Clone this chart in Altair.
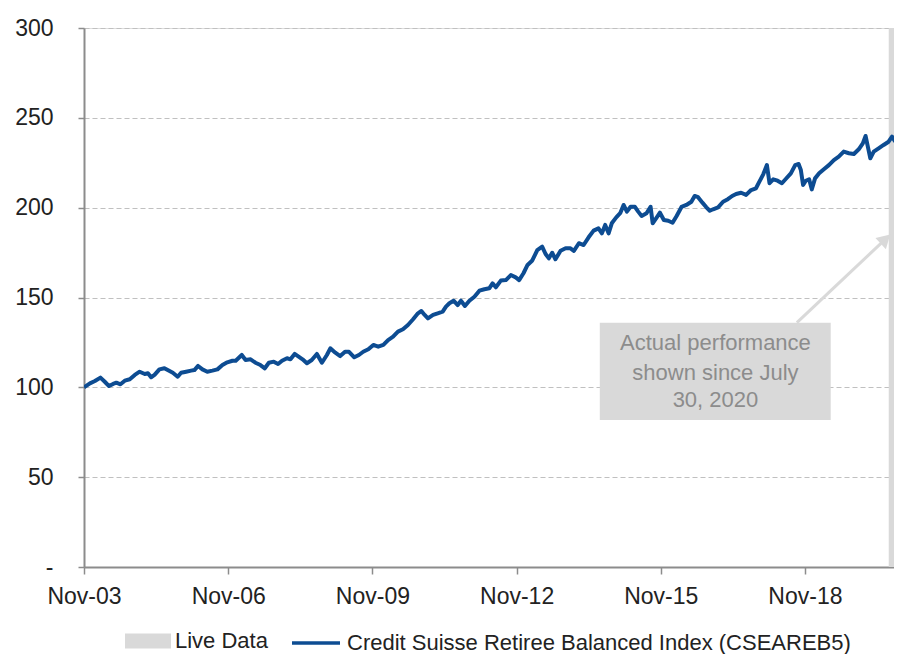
import altair as alt
import pandas as pd

# ---- series ----
dates = [
    "2003-11-01", "2003-12-16", "2004-01-23", "2004-03-05", "2004-04-07", "2004-05-09", "2004-06-09", "2004-07-04",
    "2004-08-04", "2004-09-06", "2004-10-14", "2004-11-21", "2004-12-28", "2005-02-05", "2005-03-01", "2005-03-25",
    "2005-04-20", "2005-05-27", "2005-07-04", "2005-07-29", "2005-09-06", "2005-10-13", "2005-11-08", "2005-12-16",
    "2006-01-23", "2006-02-17", "2006-03-17", "2006-04-19", "2006-05-26", "2006-07-04", "2006-08-11", "2006-09-18",
    "2006-10-25", "2006-12-03", "2006-12-28", "2007-02-12", "2007-03-13", "2007-04-20", "2007-05-27", "2007-07-04",
    "2007-08-06", "2007-09-06", "2007-10-13", "2007-11-15", "2007-12-15", "2008-01-22", "2008-02-17", "2008-03-20",
    "2008-04-19", "2008-05-19", "2008-06-21", "2008-07-28", "2008-09-05", "2008-10-13", "2008-11-20", "2008-12-16",
    "2009-01-23", "2009-03-01", "2009-04-07", "2009-05-07", "2009-06-16", "2009-07-21", "2009-08-23", "2009-10-01",
    "2009-11-08", "2009-12-15", "2010-01-23", "2010-02-28", "2010-04-07", "2010-05-14", "2010-06-21", "2010-07-29",
    "2010-09-06", "2010-10-13", "2010-11-08", "2010-12-03", "2010-12-28", "2011-02-05", "2011-03-12", "2011-04-19",
    "2011-05-14", "2011-06-09", "2011-07-11", "2011-08-11", "2011-09-05", "2011-10-05", "2011-11-08", "2011-12-16",
    "2012-01-23", "2012-03-01", "2012-04-07", "2012-05-02", "2012-05-27", "2012-07-04", "2012-08-11", "2012-09-18",
    "2012-10-25", "2012-11-20", "2012-12-23", "2013-01-23", "2013-02-28", "2013-04-07", "2013-05-14", "2013-06-09",
    "2013-07-04", "2013-07-29", "2013-08-23", "2013-10-01", "2013-11-08", "2013-12-15", "2014-01-10", "2014-02-17",
    "2014-03-25", "2014-05-02", "2014-06-09", "2014-07-16", "2014-08-11", "2014-09-05", "2014-10-01", "2014-10-25",
    "2014-11-28", "2014-12-28", "2015-01-23", "2015-02-17", "2015-03-17", "2015-04-19", "2015-05-14", "2015-06-09",
    "2015-07-16", "2015-08-16", "2015-09-01", "2015-10-06", "2015-10-26", "2015-11-25", "2015-12-28", "2016-01-30",
    "2016-03-01", "2016-04-07", "2016-05-14", "2016-06-21", "2016-07-16", "2016-08-11", "2016-09-13", "2016-10-13",
    "2016-11-08", "2016-12-03", "2017-01-10", "2017-02-17", "2017-03-25", "2017-04-27", "2017-05-27", "2017-07-04",
    "2017-08-11", "2017-09-18", "2017-10-25", "2017-11-20", "2017-12-20", "2018-01-16", "2018-02-05", "2018-03-05",
    "2018-04-07", "2018-05-10", "2018-06-10", "2018-07-17", "2018-08-19", "2018-09-14", "2018-10-01", "2018-10-18",
    "2018-11-08", "2018-12-03", "2018-12-23", "2019-01-17", "2019-02-17", "2019-03-25", "2019-05-02", "2019-06-09",
    "2019-07-16", "2019-08-23", "2019-10-01", "2019-11-08", "2019-12-15", "2020-01-15", "2020-02-05", "2020-02-25",
    "2020-03-12", "2020-04-07", "2020-05-14", "2020-06-21", "2020-07-29", "2020-08-24", "2020-09-18",
]
values = [
    100.0, 102.2, 103.5, 105.4, 103.1, 100.7, 101.9, 102.6,
    101.7, 103.7, 104.5, 106.9, 108.7, 107.4, 107.8, 105.6,
    106.9, 110.0, 110.6, 109.6, 108.1, 105.9, 108.1, 108.7,
    109.3, 109.6, 111.9, 110.0, 108.7, 109.3, 110.0, 112.4,
    113.9, 114.8, 114.8, 118.0, 115.2, 115.6, 113.7, 112.4,
    110.6, 113.7, 114.3, 113.0, 114.8, 116.2, 115.6, 118.6,
    117.1, 115.6, 113.4, 115.2, 118.6, 113.7, 118.0, 121.7,
    119.3, 117.4, 119.8, 119.8, 116.7, 118.0, 119.8, 121.2,
    123.6, 122.6, 123.6, 126.3, 128.2, 131.0, 132.3, 134.7,
    137.9, 141.2, 142.5, 140.3, 138.4, 140.3, 141.2, 142.1,
    144.9, 146.8, 148.2, 145.8, 148.2, 145.3, 148.2, 150.4,
    153.8, 154.6, 155.1, 157.9, 155.7, 159.4, 159.7, 162.5,
    161.2, 159.7, 163.5, 168.1, 170.6, 176.4, 178.3, 174.2,
    171.8, 174.9, 171.3, 176.0, 177.4, 177.4, 176.0, 180.2,
    179.2, 183.5, 187.2, 188.5, 185.7, 190.4, 185.7, 191.3,
    194.6, 196.9, 201.5, 197.8, 200.5, 200.5, 197.8, 195.4,
    196.9, 200.5, 191.3, 195.0, 197.2, 193.1, 192.7, 191.6,
    195.4, 200.4, 201.5, 203.3, 206.5, 205.8, 202.8, 200.2,
    198.3, 199.1, 200.2, 203.3, 204.7, 206.5, 207.6, 208.3,
    207.1, 209.8, 210.8, 214.5, 218.7, 223.7, 213.6, 215.8,
    215.0, 213.6, 216.1, 219.1, 223.7, 224.3, 221.0, 212.6,
    215.0, 215.8, 210.2, 216.3, 219.1, 221.4, 223.7, 226.5,
    228.4, 231.2, 230.3, 229.9, 232.5, 235.8, 239.9, 233.0,
    227.5, 231.2, 233.0, 234.9, 236.7, 239.5, 236.7,
]
series_name = "Credit Suisse Retiree Balanced Index (CSEAREB5)"

# live-data band
band_start = ["2020-07-30"]
band_end = ["2020-09-08"]
band_label = ["Live Data"]

# annotation
note_lines = ["Actual performance", "shown since July", "30, 2020"]
note_line_y = [124.8, 108.1, 92.9]
note_center_date = "2016-12-21"
note_box_start = ["2014-07-26"]
note_box_end = ["2019-05-16"]
note_box_top = [136.0]
note_box_bottom = [81.8]
arrow_from_date, arrow_from_value = "2018-09-01", 136.0
arrow_to_date, arrow_to_value = "2020-07-05", 182.5

# axis
y_ticks = [0, 50, 100, 150, 200, 250, 300]
x_tick_years = [2003, 2006, 2009, 2012, 2015, 2018]

FONT = "Liberation Sans"
BLUE = "#0d4c92"
GREY = "#d9d9d9"

df = pd.DataFrame({"date": dates, "value": values, "series": series_name})
band_df = pd.DataFrame({"start": band_start, "end": band_end, "label": band_label})
box_df = pd.DataFrame({"start": note_box_start, "end": note_box_end,
                       "top": note_box_top, "bottom": note_box_bottom})
text_df = pd.DataFrame({"date": note_center_date, "value": note_line_y, "text": note_lines})
arrow_df = pd.DataFrame({"d1": [arrow_from_date], "v1": [arrow_from_value],
                         "d2": [arrow_to_date], "v2": [arrow_to_value]})

x_scale = alt.Scale(type="utc", domain=[alt.DateTime(year=2003, month=11, date=1, utc=True),
                                        alt.DateTime(year=2020, month=9, date=8, utc=True)])
y_scale = alt.Scale(domain=[0, 300], nice=False, zero=True)

x_axis = alt.Axis(
    values=[alt.DateTime(year=yr, month=11, date=1, utc=True) for yr in x_tick_years],
    format="%b-%y", title=None, grid=False,
    labelFont=FONT, labelFontSize=23, labelColor="#222222", labelPadding=11,
    domainColor="#8c8c8c", domainWidth=2, tickColor="#8c8c8c", tickWidth=1.5, tickSize=7,
    labelFlush=False, labelOverlap=False,
)
y_axis = alt.Axis(
    values=y_ticks, title=None, grid=True, gridColor="#c0c0c0", gridDash=[5, 3], gridWidth=1.2,
    labelFont=FONT, labelFontSize=23, labelColor="#222222", labelPadding=25,
    labelExpr="datum.value == 0 ? '-' : datum.label",
    domainColor="#8c8c8c", domainWidth=2, tickColor="#8c8c8c", tickWidth=1.5, tickSize=6,
)

band = alt.Chart(band_df).mark_rect(opacity=1).encode(
    x=alt.X("start:T", scale=x_scale, axis=x_axis),
    x2="end:T",
    y=alt.value(0),
    y2=alt.value(539),
    fill=alt.Fill("label:N", scale=alt.Scale(domain=band_label, range=[GREY]),
                  legend=alt.Legend(orient="none", legendX=41, legendY=590, title=None,
                                    symbolType="M-1,-0.326H1V0.326H-1Z", symbolSize=2116,
                                    symbolStrokeWidth=0, symbolOpacity=1, padding=0,
                                    labelFont=FONT, labelFontSize=22, labelColor="#222222",
                                    labelOffset=4, labelLimit=600)),
)

line = alt.Chart(df).mark_line(strokeWidth=4, strokeJoin="round", clip=True).encode(
    x=alt.X("date:T", scale=x_scale, axis=x_axis),
    y=alt.Y("value:Q", scale=y_scale, axis=y_axis),
    stroke=alt.Stroke("series:N", scale=alt.Scale(domain=[series_name], range=[BLUE]),
                      legend=alt.Legend(orient="none", legendX=206, legendY=589, title=None,
                                        symbolType="stroke", symbolSize=2304, symbolStrokeWidth=3.3,
                                        padding=0, labelFont=FONT, labelFontSize=22,
                                        labelColor="#222222", labelOffset=5, labelLimit=800)),
)

box = alt.Chart(box_df).mark_rect(color=GREY, opacity=1).encode(
    x="start:T", x2="end:T", y="top:Q", y2="bottom:Q",
)

note = alt.Chart(text_df).mark_text(font=FONT, fontSize=22, color="#8c8c8c",
                                     align="center", baseline="middle").encode(
    x="date:T", y="value:Q", text="text:N",
)

arrow = alt.Chart(arrow_df).mark_rule(color=GREY, strokeWidth=3).encode(
    x="d1:T", y="v1:Q", x2="d2:T", y2="v2:Q",
)
head = alt.Chart(arrow_df).mark_point(shape="triangle-up", filled=True, size=230, angle=46.7,
                                      color=GREY, opacity=1).encode(
    x="d2:T", y="v2:Q",
)

chart = alt.layer(band, line, box, note, arrow, head).properties(
    width=810, height=539,
    autosize=alt.AutoSizeParams(type="none"),
    padding={"left": 76, "top": 20, "right": 0, "bottom": 87},
).configure_view(stroke=None).configure(background="white")

chart.save("out.html", embed_options={"renderer": "svg", "actions": False})
